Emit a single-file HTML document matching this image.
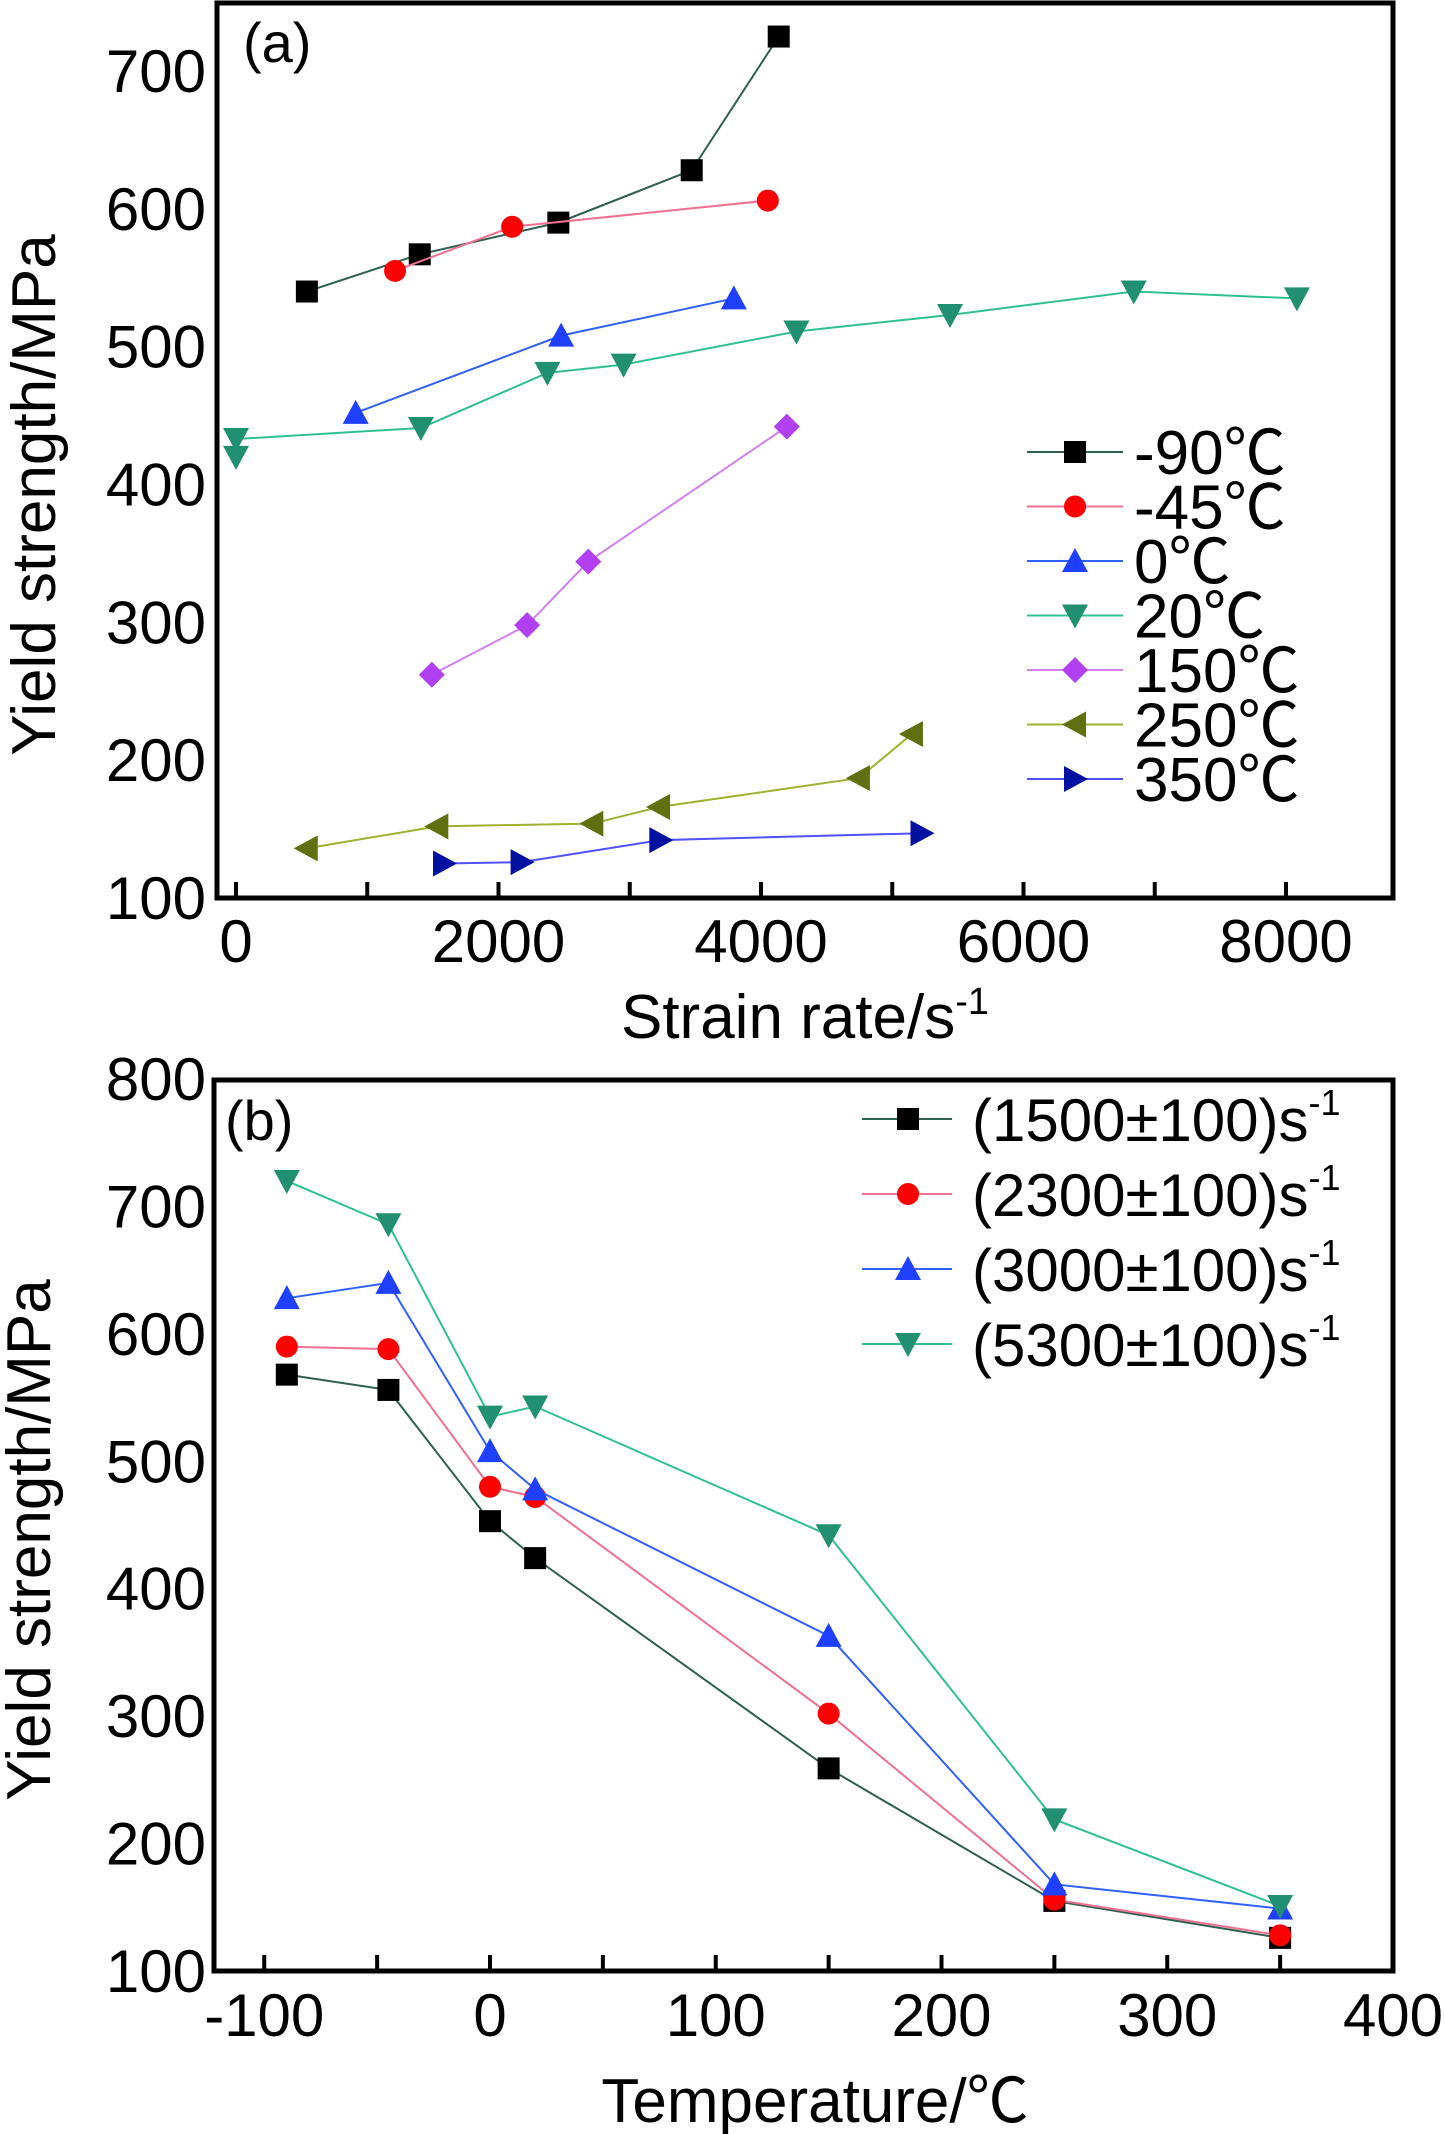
<!DOCTYPE html>
<html><head><meta charset="utf-8">
<style>
html,body{margin:0;padding:0;background:#fff;}
svg{display:block;font-family:"Liberation Sans","Noto Sans CJK SC",sans-serif;}
</style></head>
<body>
<svg id="chart" width="1445" height="2134" viewBox="0 0 1445 2134" xmlns="http://www.w3.org/2000/svg"></svg>
<script>
// ---- Panel (a) data ----
const aYTicks = [100,200,300,400,500,600,700];
const aXTicks = [0,2000,4000,6000,8000];
const aNames = ["-90℃","-45℃","0℃","20℃","150℃","250℃","350℃"];
const aX_m90 = [540,1400,2456,3472,4135];
const aY_m90 = [540,567,590,628,725];
const aX_m45 = [1212,2104,4052];
const aY_m45 = [555,587,606];
const aX_0 = [912,2477,3793];
const aY_0 = [452,508,535];
const aX_20 = [0,0,1409,2373,2953,4270,5440,6840,8083];
const aY_20 = [420,433,441,481,487,511,523,540,535];
const aX_150 = [1492,2218,2684,4197];
const aY_150 = [262,298,344,442];
const aX_250 = [539,1534,2715,3223,4746,5150];
const aY_250 = [136,152,154,166,187,219];
const aX_350 = [1585,2176,3233,5223];
const aY_350 = [125,126,142,147];
// ---- Panel (b) data ----
const bYTicks = [100,200,300,400,500,600,700,800];
const bXTicks = [-100,0,100,200,300,400];
const bTemps = [-90,-45,0,20,150,250,350];
const bNames = ["(1500±100)s","(2300±100)s","(3000±100)s","(5300±100)s"];
const bY_1500 = [568,556,453,424,259,155,126];
const bY_2300 = [590,588,480,472,302,156,128];
const bY_3000 = [628,640,508,478,363,168,149];
const bY_5300 = [720,686,535,543,442,219,151];

const NS="http://www.w3.org/2000/svg";
const svg=document.getElementById('chart');
function mk(tag,attrs,parent){const e=document.createElementNS(NS,tag);for(const k in attrs)e.setAttribute(k,attrs[k]);(parent||svg).appendChild(e);return e;}

function marker(g,shape,x,y,color){
  const s=11;let e;
  if(shape==='square') e=mk('rect',{x:x-s,y:y-s,width:2*s,height:2*s,fill:color},g);
  else if(shape==='circle') e=mk('circle',{cx:x,cy:y,r:s,fill:color},g);
  else if(shape==='up') e=mk('polygon',{points:`${x},${y-s-2} ${x-s-2},${y+s} ${x+s+2},${y+s}`,fill:color},g);
  else if(shape==='down') e=mk('polygon',{points:`${x},${y+s+2} ${x-s-2},${y-s} ${x+s+2},${y-s}`,fill:color},g);
  else if(shape==='diamond') e=mk('polygon',{points:`${x},${y-s-2} ${x+s+2},${y} ${x},${y+s+2} ${x-s-2},${y}`,fill:color},g);
  else if(shape==='left') e=mk('polygon',{points:`${x-s-2},${y} ${x+s},${y-s-2} ${x+s},${y+s+2}`,fill:color},g);
  else if(shape==='right') e=mk('polygon',{points:`${x+s+2},${y} ${x-s},${y-s-2} ${x-s},${y+s+2}`,fill:color},g);
  
  
  return e;
}

function drawSeries(g,xs,ys,sx,sy,line,mcol,shape,name){
  const sg=mk('g',{},g);
  
  
  const pts=xs.map((v,i)=>sx(v)+','+sy(ys[i])).join(' ');
  const pl=mk('polyline',{points:pts,fill:'none',stroke:line,'stroke-width':2},sg);
  
  
  xs.forEach((v,i)=>marker(sg,shape,sx(v),sy(ys[i]),mcol));
}

const styles=[
  {line:'#2f5f4f',m:'#000000',shape:'square'},
  {line:'#f07090',m:'#ff0000',shape:'circle'},
  {line:'#3060ff',m:'#2040ff',shape:'up'},
  {line:'#30c090',m:'#209070',shape:'down'},
  {line:'#d080f0',m:'#b040f0',shape:'diamond'},
  {line:'#a0b030',m:'#607010',shape:'left'},
  {line:'#5050ff',m:'#0010a0',shape:'right'}
];

// ================= Panel (a) =================
(function(){
  const L=217,R=1393,T=3,B=898;
  const sx=v=>236+v*(1286-236)/8000;
  const sy=v=>898-(v-100)*(898-71)/600;
  const g=mk('g',{});
  
  
  const fr=mk('rect',{x:L,y:T,width:R-L,height:B-T,fill:'none',stroke:'#000','stroke-width':5},g);
  
  
  for(let v=0;v<=8000;v+=1000){
    const t=mk('line',{x1:sx(v),x2:sx(v),y1:B,y2:B-16,stroke:'#000','stroke-width':4},g);
    
    
  }
  aXTicks.forEach(v=>{
    const t=mk('text',{x:sx(v),y:962,'font-size':60,'text-anchor':'middle'},g);t.textContent=v;
    
    
  });
  aYTicks.forEach(v=>{
    const t=mk('text',{x:206,y:sy(v)+21,'font-size':60,'text-anchor':'end'},g);t.textContent=v;
    
    
  });
  const xt=mk('text',{x:805,y:1038,'font-size':62,'text-anchor':'middle'},g);
  xt.innerHTML='Strain rate/s<tspan font-size="38" dy="-24">-1</tspan>';
  
  
  const yt=mk('text',{x:0,y:0,'font-size':62,'text-anchor':'middle',transform:'translate(55,495) rotate(-90)'},g);
  yt.textContent='Yield strength/MPa';
  
  
  const pl=mk('text',{x:243,y:62,'font-size':56},g);pl.textContent='(a)';
  
  
  const XS=[aX_m90,aX_m45,aX_0,aX_20,aX_150,aX_250,aX_350];
  const YS=[aY_m90,aY_m45,aY_0,aY_20,aY_150,aY_250,aY_350];
  XS.forEach((xs,i)=>drawSeries(g,xs,YS[i],sx,sy,styles[i].line,styles[i].m,styles[i].shape,'series-'+aNames[i].replace('℃','c')));
  const lg=mk('g',{},g);
  
  
  aNames.forEach((n,i)=>{
    const y=452+i*54.5;
    const e=mk('g',{},lg);
    
    
    mk('line',{x1:1027,x2:1123,y1:y,y2:y,stroke:styles[i].line,'stroke-width':2},e);
    marker(e,styles[i].shape,1075,y,styles[i].m);
    const t=mk('text',{x:1134,y:y+22,'font-size':62},e);t.textContent=n;
  });
})();

// ================= Panel (b) =================
(function(){
  const L=214,R=1393,T=1080,B=1971;
  const sx=v=>490+v*(1393-490)/400;
  const sy=v=>1971-(v-100)*(1971-1079)/700;
  const g=mk('g',{});
  
  
  const fr=mk('rect',{x:L,y:T,width:R-L,height:B-T,fill:'none',stroke:'#000','stroke-width':5},g);
  
  
  for(let v=-100;v<=350;v+=50){
    const t=mk('line',{x1:sx(v),x2:sx(v),y1:B,y2:B-16,stroke:'#000','stroke-width':4},g);
    
    
  }
  bXTicks.forEach(v=>{
    const t=mk('text',{x:sx(v),y:2036,'font-size':60,'text-anchor':'middle'},g);t.textContent=v;
    
    
  });
  bYTicks.forEach(v=>{
    const t=mk('text',{x:206,y:sy(v)+21,'font-size':60,'text-anchor':'end'},g);t.textContent=v;
    
    
  });
  const xt=mk('text',{x:815,y:2122,'font-size':62,'text-anchor':'middle'},g);
  xt.textContent='Temperature/℃';
  
  
  const yt=mk('text',{x:0,y:0,'font-size':62,'text-anchor':'middle',transform:'translate(50,1540) rotate(-90)'},g);
  yt.textContent='Yield strength/MPa';
  
  
  const pl=mk('text',{x:225,y:1140,'font-size':56},g);pl.textContent='(b)';
  
  
  const YS=[bY_1500,bY_2300,bY_3000,bY_5300];
  const bs=[styles[0],styles[1],styles[2],styles[3]];
  YS.forEach((ys,i)=>drawSeries(g,bTemps,ys,sx,sy,bs[i].line,bs[i].m,bs[i].shape,'series-rate-'+i));
  const lg=mk('g',{},g);
  
  
  bNames.forEach((n,i)=>{
    const y=1119+i*75;
    const e=mk('g',{},lg);
    
    
    mk('line',{x1:862,x2:952,y1:y,y2:y,stroke:bs[i].line,'stroke-width':2},e);
    marker(e,bs[i].shape,908,y,bs[i].m);
    const t=mk('text',{x:972,y:y+22,'font-size':60},e);
    t.innerHTML=n+'<tspan font-size="36" dy="-26">-1</tspan>';
  });
})();
</script>
</body></html>
